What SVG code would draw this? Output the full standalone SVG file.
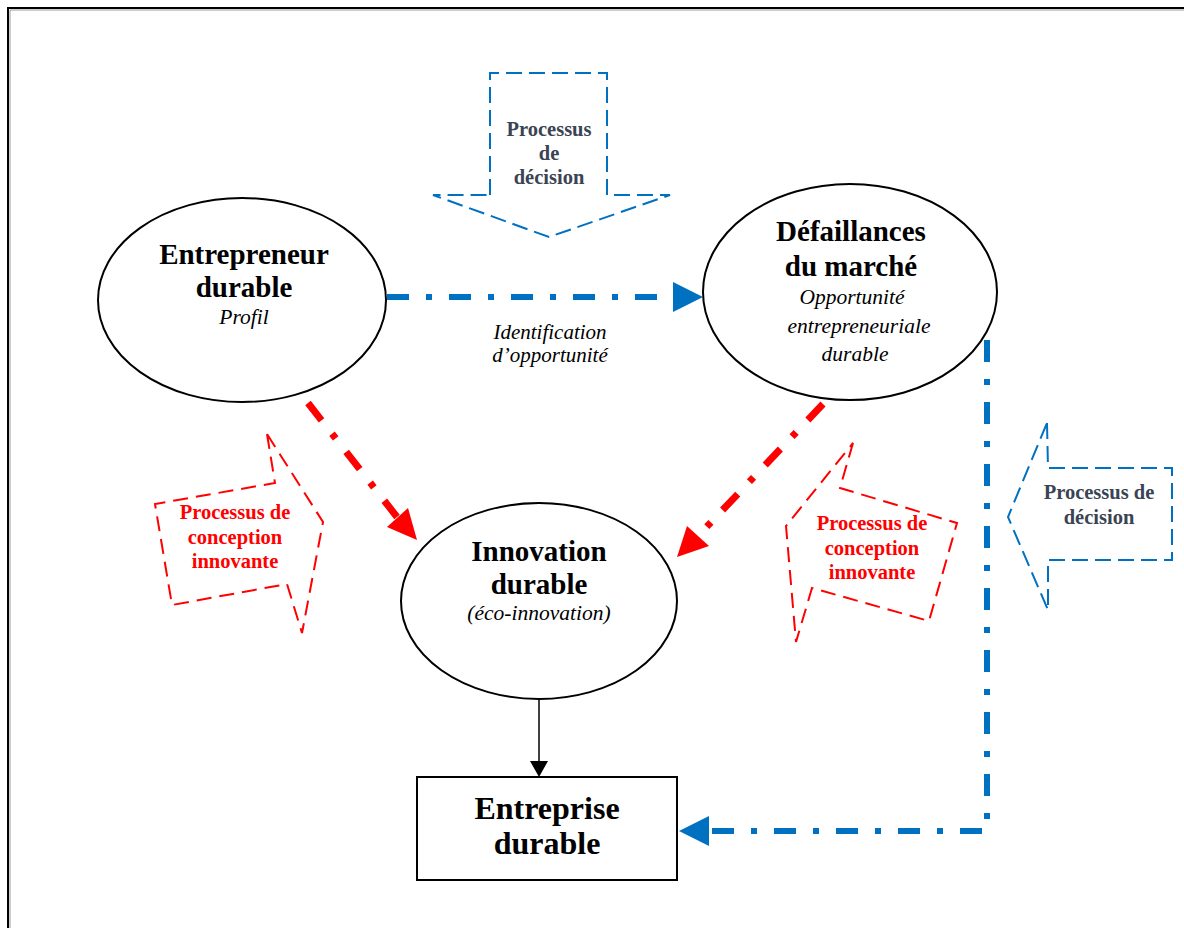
<svg xmlns="http://www.w3.org/2000/svg" width="1184" height="928" viewBox="0 0 1184 928">
<defs>
<style>
.node{fill:#fff;stroke:#000;stroke-width:2}
.t{font-family:"Liberation Serif","Times New Roman",serif;text-anchor:middle}
.i{font-style:italic}
.big{font-size:29px;font-weight:bold}
.sub{font-size:21.5px;font-style:italic}
.bdash{fill:none;stroke:#0070C0;stroke-width:2;stroke-dasharray:16 7}
.rdash{fill:none;stroke:#FF0000;stroke-width:2;stroke-dasharray:15 8}
.bdd{fill:none;stroke:#0070C0;stroke-width:6;stroke-dasharray:22 17 6 17}
.rdd{fill:none;stroke:#FF0000;stroke-width:7;stroke-dasharray:22 17 6 17}
.dec{fill:#3A4454;font-size:20.5px;font-weight:bold}
.red{fill:#FF0000;font-size:20.5px;font-weight:bold}
</style>
</defs>
<rect x="0" y="0" width="1184" height="928" fill="#fff"/>
<path d="M8 928 V8 H1184" fill="none" stroke="#000" stroke-width="2"/>
<path d="M10 928 V10 H1184" fill="none" stroke="#999" stroke-width="1"/>

<g id="connectors">
<line class="bdd" x1="387" y1="297" x2="673" y2="297"/>
<polygon points="673,282 703,297 673,312" fill="#0070C0"/>
<polyline class="bdd" points="987,340 987,831 709,831"/>
<polygon points="709,816 679,831 709,846" fill="#0070C0"/>
<line class="rdd" x1="308" y1="403" x2="397" y2="517"/>
<polygon points="417,540 387,527 408,508" fill="#FF0000"/>
<line class="rdd" x1="823" y1="404" x2="698" y2="536"/>
<polygon points="677,557 687,526 709,546" fill="#FF0000"/>
<line x1="539" y1="700" x2="539" y2="762" stroke="#000" stroke-width="1.5"/>
<polygon points="530,761 548,761 539,777" fill="#000"/>
<text class="t i" x="550" y="339" font-size="21">Identification</text>
<text class="t i" x="550" y="362" font-size="21">d’opportunité</text>
</g>

<g id="entrepreneur">
<ellipse class="node" cx="242" cy="300" rx="144" ry="102"/>
<text class="t big" x="244" y="264">Entrepreneur</text>
<text class="t big" x="244" y="297">durable</text>
<text class="t sub" x="244" y="324">Profil</text>
</g>

<g id="defaillances">
<ellipse class="node" cx="850" cy="292" rx="147" ry="108"/>
<text class="t big" x="851" y="241">Défaillances</text>
<text class="t big" x="851" y="276">du marché</text>
<text class="t sub" x="852" y="304">Opportunité</text>
<text class="t sub" x="859" y="333">entrepreneuriale</text>
<text class="t sub" x="855" y="361">durable</text>
</g>

<g id="innovation">
<ellipse class="node" cx="539" cy="601" rx="138" ry="98"/>
<text class="t big" x="539" y="561">Innovation</text>
<text class="t big" x="539" y="594">durable</text>
<text class="t sub" x="539" y="620">(éco-innovation)</text>
</g>

<g id="entreprise">
<rect class="node" x="417" y="777" width="260" height="103"/>
<text class="t" x="547" y="819" font-size="32" font-weight="bold">Entreprise</text>
<text class="t" x="547" y="854" font-size="32" font-weight="bold">durable</text>
</g>

<g id="decision-top">
<polygon class="bdash" points="490,195 490,73 607,73 607,195 670,195 549,237 433,195"/>
<text class="t dec" x="549" y="136">Processus</text>
<text class="t dec" x="549" y="160">de</text>
<text class="t dec" x="549" y="184">décision</text>
</g>

<g id="decision-right">
<polygon class="bdash" points="1047,423 1048,468 1172,468 1172,560 1048,560 1048,610 1008,517"/>
<text class="t dec" x="1099" y="499">Processus de</text>
<text class="t dec" x="1099" y="524">décision</text>
</g>

<g id="conception-left">
<polygon class="rdash" points="267,434 275,483 155,504 172,605 287,584 302,633 323,522"/>
<text class="t red" x="235" y="519">Processus de</text>
<text class="t red" x="235" y="544">conception</text>
<text class="t red" x="235" y="568">innovante</text>
</g>

<g id="conception-right">
<polygon class="rdash" points="853,443 840,488 957,523 929,621 812,588 796,642 786,526"/>
<text class="t red" x="872" y="530">Processus de</text>
<text class="t red" x="872" y="555">conception</text>
<text class="t red" x="872" y="579">innovante</text>
</g>
</svg>
